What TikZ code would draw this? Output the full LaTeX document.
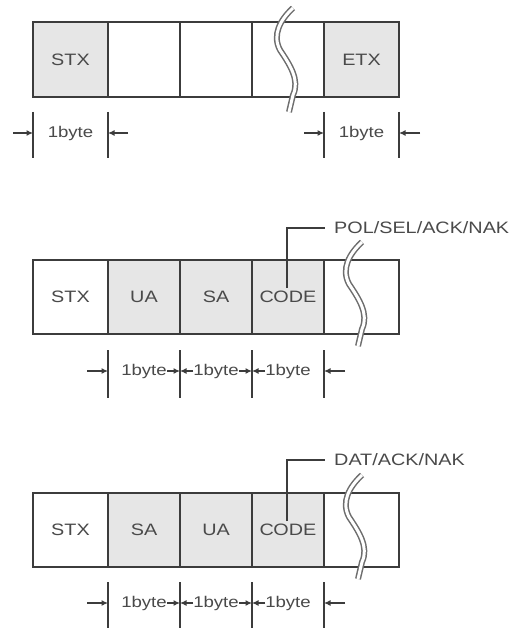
\documentclass[tikz,border=0pt]{standalone}
\usepackage{fontspec}
\setmainfont[FakeStretch=1.2]{Liberation Sans}
\usetikzlibrary{arrows.meta}
\definecolor{ln}{HTML}{3C3C3C}
\definecolor{tx}{HTML}{4A4A4A}
\definecolor{gf}{HTML}{E6E6E6}
\begin{document}
\begin{tikzpicture}[x=1pt,y=-1pt,
  cell/.style={draw=ln,line width=2.2pt,inner sep=0pt,minimum height=74pt,font=\fontsize{16.5}{18}\selectfont,text=tx},
  w5/.style={minimum width=75pt},
  w2/.style={minimum width=72pt},
  shade/.style={fill=gf},
  tick/.style={draw=ln,line width=2.2pt},
  dim/.style={draw=ln,line width=1.8pt,-{Latex[length=6.5pt,width=6pt]}},
  lbl/.style={inner sep=0pt,font=\fontsize{15.5}{17}\selectfont,text=tx,fill=white},
  brk/.style={line width=6pt,draw=ln!75},
  brkw/.style={line width=3pt,draw=white},
  note/.style={inner sep=0pt,anchor=west,font=\fontsize{16.5}{18}\selectfont,text=tx},
  lead/.style={draw=ln,line width=2.2pt}]
\useasboundingbox (0,0) rectangle (518,628);
\fill[white] (0,0) rectangle (518,628);
% ---------- Row 1 ----------
\node[cell,w5,shade,minimum height=75pt] (a1) at (70.5,59.5) {STX};
\node[cell,w2,minimum height=75pt] (a2) at (144,59.5) {};
\node[cell,w2,minimum height=75pt] (a3) at (216,59.5) {};
\node[cell,w2,minimum height=75pt] (a4) at (288,59.5) {};
\node[cell,w5,shade,minimum height=75pt] (a5) at (361.5,59.5) {ETX};
\def\brkpath{(0,0) .. controls (-13,12) and (-21,27) .. (-13,42) .. controls (-3,57) and (7,72) .. (0,87) -- (-4,104)}
\draw[brk,shift={(293,8)}] \brkpath;
\draw[brkw,shift={(293,8)}] \brkpath;
% dims row 1
\coordinate (a1t) at (33,112); \coordinate (a1b) at (33,158);
\coordinate (a2t) at (108,112); \coordinate (a2b) at (108,158);
\coordinate (a5t) at (324,112); \coordinate (a5b) at (324,158);
\coordinate (a6t) at (399,112); \coordinate (a6b) at (399,158);
\draw[tick] (a1t) -- (a1b); \draw[tick] (a2t) -- (a2b);
\draw[tick] (a5t) -- (a5b); \draw[tick] (a6t) -- (a6b);
\coordinate (a1o) at (13,133); \coordinate (a1i) at (33,133);
\coordinate (a2o) at (128,133); \coordinate (a2i) at (108,133);
\coordinate (a5o) at (304,133); \coordinate (a5i) at (324,133);
\coordinate (a6o) at (420,133); \coordinate (a6i) at (399,133);
\draw[dim] (a1o) -- (a1i); \draw[dim] (a2o) -- (a2i);
\draw[dim] (a5o) -- (a5i); \draw[dim] (a6o) -- (a6i);
\node[lbl] (ad1) at (70.5,133) {1byte};
\node[lbl] (ad2) at (361.5,133) {1byte};
% ---------- Row 2 ----------
\node[cell,w5] (b1) at (70.5,297) {STX};
\node[cell,w2,shade] (b2) at (144,297) {UA};
\node[cell,w2,shade] (b3) at (216,297) {SA};
\node[cell,w2,shade] (b4) at (288,297) {C\kern-0.5ptODE};
\node[cell,w5] (b5) at (361.5,297) {};
\draw[brk,shift={(362,242)}] \brkpath;
\draw[brkw,shift={(362,242)}] \brkpath;
\coordinate (bl0) at (287,288); \coordinate (bl1) at (287,228);
\node[note] (bn) at (334,228) {POL/SEL/ACK/NAK};
\draw[lead] (bl0) -- (bl1) -- ([xshift=-9pt]bn.west);
% dims row 2
\coordinate (b2t) at (108,350); \coordinate (b2b) at (108,398);
\coordinate (b3t) at (180,350); \coordinate (b3b) at (180,398);
\coordinate (b4t) at (252,350); \coordinate (b4b) at (252,398);
\coordinate (b5t) at (324,350); \coordinate (b5b) at (324,398);
\draw[tick] (b2t) -- (b2b); \draw[tick] (b3t) -- (b3b);
\draw[tick] (b4t) -- (b4b); \draw[tick] (b5t) -- (b5b);
\node[lbl] (bd1) at (144,371) {1byte};
\node[lbl] (bd2) at (216,371) {1byte};
\node[lbl] (bd3) at (288,371) {1byte};
\coordinate (b2o) at (87,371); \coordinate (b2i) at (108,371);
\coordinate (b3i) at (180,371); \coordinate (b4i) at (252,371);
\coordinate (b5o) at (345,371); \coordinate (b5i) at (324,371);
\draw[dim] (b2o) -- (b2i); \draw[dim] (b5o) -- (b5i);
\draw[dim] (bd1.east) -- (b3i); \draw[dim] (bd2.west) -- (b3i);
\draw[dim] (bd2.east) -- (b4i); \draw[dim] (bd3.west) -- (b4i);
% ---------- Row 3 ----------
\node[cell,w5] (c1) at (70.5,530) {STX};
\node[cell,w2,shade] (c2) at (144,530) {SA};
\node[cell,w2,shade] (c3) at (216,530) {UA};
\node[cell,w2,shade] (c4) at (288,530) {C\kern-0.5ptODE};
\node[cell,w5] (c5) at (361.5,530) {};
\draw[brk,shift={(362,475)}] \brkpath;
\draw[brkw,shift={(362,475)}] \brkpath;
\coordinate (cl0) at (287,521); \coordinate (cl1) at (287,460);
\node[note] (cn) at (334,460) {DAT/ACK/NAK};
\draw[lead] (cl0) -- (cl1) -- ([xshift=-9pt]cn.west);
% dims row 3
\coordinate (c2t) at (108,582); \coordinate (c2b) at (108,628);
\coordinate (c3t) at (180,582); \coordinate (c3b) at (180,628);
\coordinate (c4t) at (252,582); \coordinate (c4b) at (252,628);
\coordinate (c5t) at (324,582); \coordinate (c5b) at (324,628);
\draw[tick] (c2t) -- (c2b); \draw[tick] (c3t) -- (c3b);
\draw[tick] (c4t) -- (c4b); \draw[tick] (c5t) -- (c5b);
\node[lbl] (cd1) at (144,603) {1byte};
\node[lbl] (cd2) at (216,603) {1byte};
\node[lbl] (cd3) at (288,603) {1byte};
\coordinate (c2o) at (87,603); \coordinate (c2i) at (108,603);
\coordinate (c3i) at (180,603); \coordinate (c4i) at (252,603);
\coordinate (c5o) at (345,603); \coordinate (c5i) at (324,603);
\draw[dim] (c2o) -- (c2i); \draw[dim] (c5o) -- (c5i);
\draw[dim] (cd1.east) -- (c3i); \draw[dim] (cd2.west) -- (c3i);
\draw[dim] (cd2.east) -- (c4i); \draw[dim] (cd3.west) -- (c4i);
\end{tikzpicture}
\end{document}
